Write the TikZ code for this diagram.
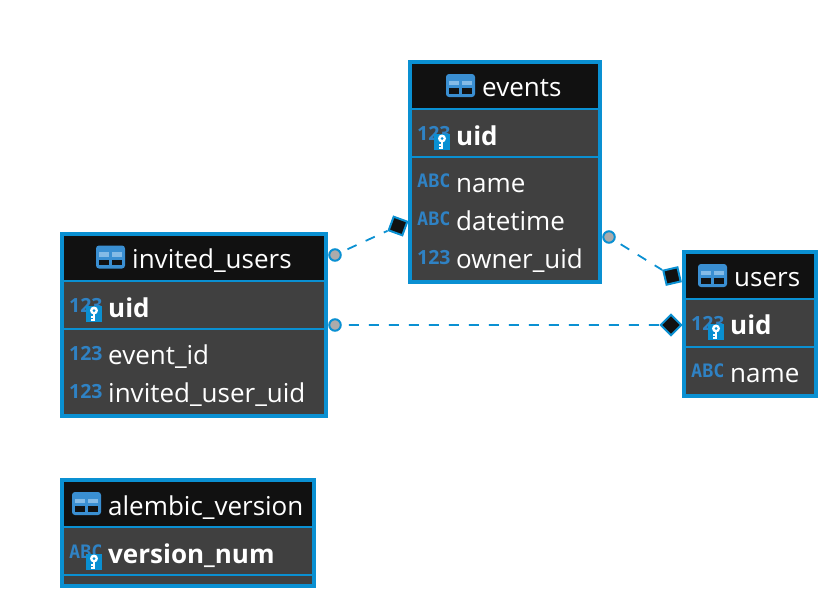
\documentclass[tikz,border=0pt]{standalone}
\usepackage{fontspec}
\setmainfont{Open Sans}
\newfontfamily\tagfont{DejaVu Sans Mono}
\usetikzlibrary{positioning}
\definecolor{frameblue}{HTML}{0A90D2}
\definecolor{tagblue}{HTML}{2F82C4}
\definecolor{iconblue}{HTML}{3A8FD2}
\definecolor{iconlight}{HTML}{85BBE6}
\definecolor{headdark}{HTML}{111111}
\definecolor{rowdark}{HTML}{404040}
\definecolor{dotgray}{HTML}{ABABAB}
\tikzset{
  frame/.style={draw=frameblue, fill=rowdark, line width=4pt, anchor=north west, outer sep=0pt, inner sep=0pt},
  head/.style={fill=headdark, anchor=north west, outer sep=0pt, inner sep=0pt},
  rowline/.style={draw=frameblue, line width=2pt},
  title/.style={anchor=base west, inner sep=0pt, yshift=-1pt, text=white, font=\fontsize{26}{26}\selectfont},
  field/.style={title},
  keyfield/.style={title, font=\fontsize{26}{26}\selectfont\bfseries},
  numtag/.style={anchor=base west, inner sep=0pt, text=tagblue, font=\fontsize{19.5}{20}\selectfont\bfseries},
  abctag/.style={anchor=base west, inner sep=0pt, text=tagblue, font=\fontsize{18.5}{20}\tagfont\bfseries},
  dot/.style={circle, draw=frameblue, fill=dotgray, line width=2pt, minimum size=11.5pt, inner sep=0pt},
  tip/.style={rectangle, draw=frameblue, fill=headdark, line width=2pt, minimum size=14.5pt, inner sep=0pt},
  link/.style={draw=frameblue, line width=1.8pt, dash pattern=on 10pt off 10pt, dash phase=13pt},
  tableicon/.pic={
    \fill[iconblue, rounded corners=3pt] (-14.5,-11.5) rectangle (14.5,11.5);
    \fill[iconlight] (-11.5,-4.8) rectangle (-1.2,-0.2);
    \fill[iconlight] (1.5,-4.8) rectangle (11.5,-0.2);
    \fill[headdark] (-11.5,2.8) rectangle (-1.2,8.2);
    \fill[headdark] (1.5,2.8) rectangle (11.5,8.2);
  },
  keybadge/.pic={
    \fill[frameblue] (-8,-8) rectangle (8,8);
    \fill[white] (0,-3.5) circle (4);
    \fill[frameblue] (0,-3.5) circle (1.5);
    \fill[white] (-1.2,0) rectangle (1.2,6.5);
    \fill[white] (-3.5,2) rectangle (0,3.6);
    \fill[white] (-3.5,4.9) rectangle (0,6.5);
  },
}

\begin{document}
\begin{tikzpicture}[x=1pt, y=-1pt]
  \useasboundingbox (0,0) rectangle (838,608);

  % events
  \node[frame, minimum width=190pt, minimum height=220pt] (events) at (410,62) {};
  \node[head, minimum width=186pt, minimum height=44pt] (eventshead) at (412,64) {};
  \draw[rowline] (412,109) -- (598,109);
  \draw[rowline] (412,157) -- (598,157);
  \pic at (460.5,85.5) {tableicon};
  \node[title] (eventstitle) at (482,95) {events};
  \node[numtag] (eventsuidtag) at (417,140) {123};
  \pic at (442,142) {keybadge};
  \node[keyfield] (eventsuid) at (456,144) {uid};
  \node[abctag] (eventsnametag) at (417,187) {ABC};
  \node[field] (eventsname) at (456,191) {name};
  \node[abctag] (eventsdatetag) at (417,225) {ABC};
  \node[field] (eventsdate) at (456,229) {datetime};
  \node[numtag] (eventsownertag) at (417,264) {123};
  \node[field] (eventsowner) at (456,267) {owner\_uid};

  % invited_users
  \node[frame, minimum width=264pt, minimum height=182pt] (invited) at (62,234) {};
  \node[head, minimum width=260pt, minimum height=46pt] (invitedhead) at (64,236) {};
  \draw[rowline] (64,281) -- (324,281);
  \draw[rowline] (64,329) -- (324,329);
  \pic at (110.5,257) {tableicon};
  \node[title] (invitedtitle) at (132,267) {invited\_users};
  \node[numtag] (inviteduidtag) at (69,312) {123};
  \pic at (94,314) {keybadge};
  \node[keyfield] (inviteduid) at (108,316) {uid};
  \node[numtag] (invitedeventtag) at (69,360) {123};
  \node[field] (invitedevent) at (108,363) {event\_id};
  \node[numtag] (invitedusertag) at (69,398) {123};
  \node[field] (inviteduser) at (108,401) {invited\_user\_uid};

  % users
  \node[frame, minimum width=132pt, minimum height=144pt] (users) at (684,252) {};
  \node[head, minimum width=128pt, minimum height=44pt] (usershead) at (686,254) {};
  \draw[rowline] (686,299) -- (814,299);
  \draw[rowline] (686,347) -- (814,347);
  \pic at (712.5,275.5) {tableicon};
  \node[title] (userstitle) at (734,285) {users};
  \node[numtag] (usersuidtag) at (691,330) {123};
  \pic at (716,332) {keybadge};
  \node[keyfield] (usersuid) at (730,333) {uid};
  \node[abctag] (usersnametag) at (691,377) {ABC};
  \node[field] (usersname) at (730,381) {name};

  % alembic_version
  \node[frame, minimum width=252pt, minimum height=106pt] (alembic) at (62,480) {};
  \node[head, minimum width=248pt, minimum height=44pt] (alembichead) at (64,482) {};
  \draw[rowline] (64,527) -- (312,527);
  \draw[rowline] (64,575) -- (312,575);
  \pic at (86.5,503.5) {tableicon};
  \node[title] (alembictitle) at (108,514) {alembic\_version};
  \node[abctag] (alembicnumtag) at (69,558) {ABC};
  \pic at (94,562) {keybadge};
  \node[keyfield] (alembicnum) at (108,562) {version\_num};

  % relations
  \node[dot] (inviteddot) at (335,255) {};
  \node[dot] (inviteddotb) at (335,325) {};
  \node[dot] (eventsdot) at (609,237) {};
  \node[tip, rotate=-20] (eventstip) at (398,226) {};
  \node[tip, rotate=13] (userstip) at (672,276) {};
  \node[tip, rotate=45] (usersuidtip) at (671,325) {};
  \draw[link] (inviteddot) -- (eventstip);
  \draw[link] (inviteddotb) -- (usersuidtip);
  \draw[link] (eventsdot) -- (userstip);
\end{tikzpicture}
\end{document}
